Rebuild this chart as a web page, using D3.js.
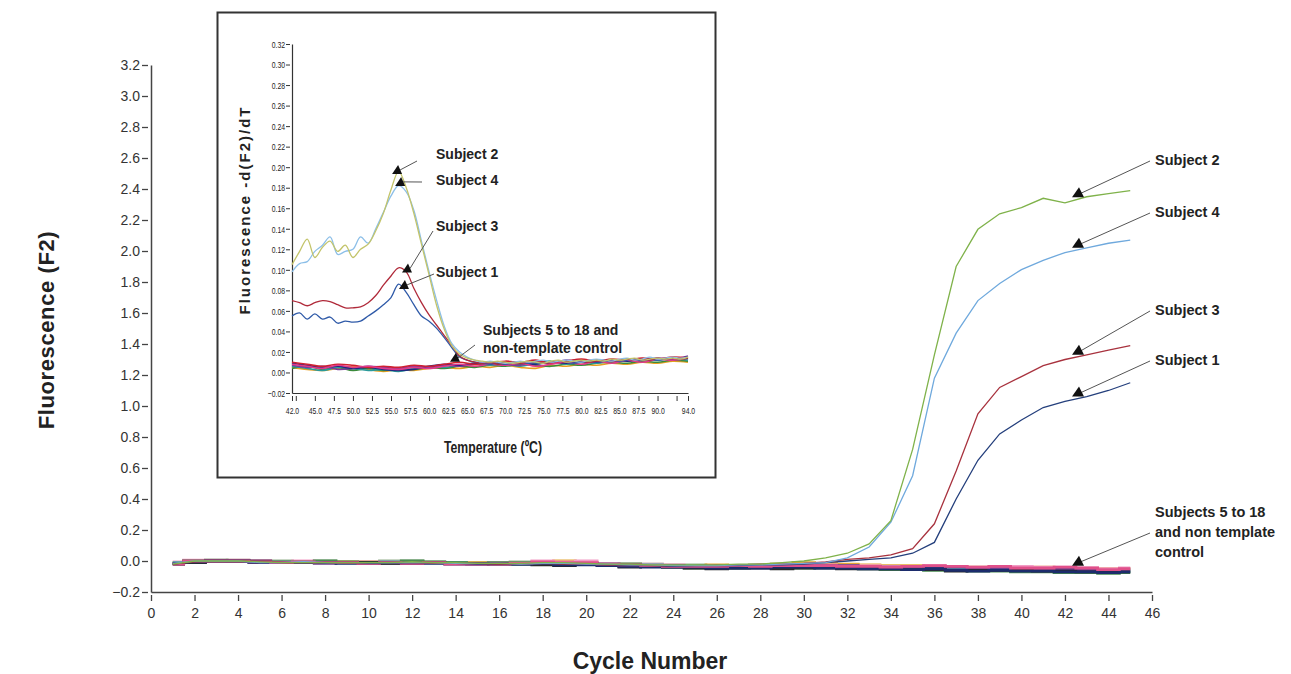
<!DOCTYPE html>
<html><head><meta charset="utf-8">
<script src="https://cdn.jsdelivr.net/npm/d3@7"></script>
<style>
body{margin:0;background:#fff;}
svg{display:block;}
</style></head>
<body><svg id="c" width="1291" height="674"></svg>
<script>
// ---------------- DATA: main amplification chart ----------------
const cycles = d3.range(1, 46);
const xTicks = [0,2,4,6,8,10,12,14,16,18,20,22,24,26,28,30,32,34,36,38,40,42,44,46];
const yTicks = [-0.2,0.0,0.2,0.4,0.6,0.8,1.0,1.2,1.4,1.6,1.8,2.0,2.2,2.4,2.6,2.8,3.0,3.2];

const subject2 = [-0.02,0,0,0,-0.005,-0.01,-0.01,-0.01,-0.01,-0.01,-0.01,-0.005,-0.01,-0.01,-0.015,-0.015,-0.015,-0.01,-0.01,-0.015,-0.02,-0.02,-0.025,-0.025,-0.025,-0.025,-0.02,-0.02,-0.01,
  0.0,0.02,0.05,0.11,0.26,0.72,1.33,1.90,2.14,2.24,2.28,2.34,2.31,2.35,2.37,2.39];
const subject4 = [-0.015,0,0,0,-0.01,-0.01,-0.005,-0.01,-0.01,-0.01,-0.01,-0.01,-0.01,-0.015,-0.015,-0.015,-0.02,-0.015,-0.015,-0.02,-0.02,-0.025,-0.025,-0.03,-0.03,-0.03,-0.025,-0.025,-0.02,
  -0.015,-0.01,0.02,0.09,0.25,0.55,1.18,1.47,1.68,1.79,1.88,1.94,1.99,2.02,2.05,2.07];
const subject3 = [-0.02,-0.005,0,0,-0.005,-0.01,-0.01,-0.01,-0.015,-0.01,-0.01,-0.01,-0.015,-0.015,-0.015,-0.02,-0.02,-0.015,-0.02,-0.02,-0.025,-0.025,-0.03,-0.03,-0.03,-0.025,-0.025,-0.02,-0.02,
  -0.015,-0.005,0.01,0.02,0.04,0.08,0.24,0.58,0.95,1.12,1.19,1.26,1.30,1.33,1.36,1.39];
const subject1 = [-0.02,-0.005,0,0,-0.01,-0.01,-0.01,-0.015,-0.01,-0.015,-0.015,-0.01,-0.015,-0.015,-0.02,-0.02,-0.02,-0.02,-0.02,-0.025,-0.025,-0.03,-0.03,-0.035,-0.03,-0.03,-0.03,-0.025,-0.025,
  -0.02,-0.01,0.0,0.01,0.02,0.05,0.12,0.40,0.65,0.82,0.91,0.99,1.03,1.06,1.10,1.15];

// subjects 5 to 18 and non-template control (flat traces)
const flat1 = [-0.02,0,0,0,-0.005,-0.01,-0.005,-0.01,-0.01,-0.015,-0.01,-0.015,-0.01,-0.02,-0.02,-0.02,-0.015,-0.005,-0.01,-0.01,-0.02,-0.025,-0.03,-0.035,-0.035,-0.035,-0.03,-0.035,-0.03,-0.03,-0.03,-0.035,-0.035,-0.04,-0.035,-0.03,-0.035,-0.04,-0.035,-0.045,-0.045,-0.04,-0.045,-0.055,-0.05];
const flat2 = [-0.02,-0.01,0,0,0,-0.01,-0.01,-0.015,-0.01,-0.015,-0.015,-0.01,-0.01,-0.015,-0.02,-0.015,-0.015,-0.01,-0.02,-0.015,-0.02,-0.03,-0.035,-0.03,-0.035,-0.04,-0.035,-0.035,-0.035,-0.03,-0.03,-0.03,-0.035,-0.04,-0.04,-0.045,-0.04,-0.045,-0.05,-0.05,-0.055,-0.05,-0.055,-0.06,-0.055];
const flat3 = [-0.01,0,0,0,-0.005,-0.005,-0.01,-0.005,-0.01,-0.01,-0.005,-0.005,-0.01,-0.01,-0.015,-0.015,-0.02,-0.02,-0.02,-0.015,-0.02,-0.02,-0.025,-0.03,-0.03,-0.035,-0.035,-0.04,-0.04,-0.035,-0.04,-0.04,-0.045,-0.045,-0.05,-0.05,-0.05,-0.055,-0.06,-0.055,-0.06,-0.06,-0.065,-0.06,-0.065];
const flat4 = [-0.015,-0.005,0,0,-0.01,-0.01,-0.01,-0.01,-0.015,-0.015,-0.01,-0.015,-0.015,-0.02,-0.02,-0.02,-0.02,-0.015,-0.025,-0.025,-0.03,-0.035,-0.04,-0.04,-0.04,-0.045,-0.045,-0.045,-0.04,-0.04,-0.045,-0.045,-0.05,-0.05,-0.055,-0.05,-0.06,-0.065,-0.06,-0.065,-0.065,-0.07,-0.07,-0.075,-0.07];
const flat5 = [-0.01,0,0,0,0,-0.005,-0.005,-0.01,-0.005,-0.005,-0.01,-0.005,-0.01,-0.01,-0.01,-0.015,-0.015,-0.01,0,-0.01,-0.015,-0.02,-0.025,-0.03,-0.03,-0.025,-0.03,-0.03,-0.02,-0.01,-0.015,-0.02,-0.025,-0.03,-0.03,-0.035,-0.035,-0.04,-0.04,-0.045,-0.04,-0.045,-0.05,-0.05,-0.05];
const flat6 = [-0.015,0,0.005,0,-0.005,-0.005,-0.005,0,-0.005,-0.01,-0.01,0,-0.005,-0.01,-0.015,-0.01,-0.01,-0.015,-0.015,-0.02,-0.025,-0.02,-0.03,-0.04,-0.045,-0.045,-0.045,-0.04,-0.045,-0.045,-0.04,-0.045,-0.05,-0.055,-0.055,-0.06,-0.06,-0.065,-0.065,-0.07,-0.07,-0.075,-0.075,-0.08,-0.075];
const flat7 = [-0.02,-0.01,0,0,-0.005,-0.01,-0.01,-0.01,-0.01,-0.01,-0.015,-0.015,-0.01,-0.015,-0.015,-0.02,-0.02,-0.025,-0.03,-0.02,-0.03,-0.04,-0.035,-0.04,-0.045,-0.05,-0.045,-0.045,-0.05,-0.045,-0.045,-0.05,-0.05,-0.05,-0.055,-0.055,-0.065,-0.06,-0.06,-0.06,-0.065,-0.065,-0.07,-0.07,-0.07];
const flat8 = [-0.005,0.005,0.005,0.005,0,-0.005,0,-0.005,-0.01,-0.005,-0.005,-0.01,-0.01,-0.015,-0.015,-0.01,-0.01,0,-0.005,0,-0.015,-0.02,-0.02,-0.025,-0.03,-0.03,-0.035,-0.03,-0.03,-0.025,-0.025,-0.03,-0.03,-0.035,-0.035,-0.03,-0.035,-0.04,-0.04,-0.035,-0.04,-0.04,-0.045,-0.05,-0.045];
const flat9 = [-0.01,0,0,0.005,0,0,-0.005,0,-0.005,-0.005,0,0,-0.005,-0.01,-0.01,-0.01,-0.005,-0.01,-0.015,-0.01,-0.015,-0.02,-0.02,-0.025,-0.025,-0.03,-0.03,-0.025,-0.02,-0.02,-0.025,-0.03,-0.035,-0.035,-0.04,-0.04,-0.04,-0.045,-0.045,-0.05,-0.05,-0.05,-0.055,-0.055,-0.05];

// ---------------- DATA: inset melting-curve chart ----------------
const temps = d3.range(42, 95);
const tempsFlat = d3.range(42, 95, 2);
const insetXTicks = [42,42.5,45,47.5,50,52.5,55,57.5,60,62.5,65,67.5,70,72.5,75,77.5,80,82.5,85,87.5,90,92.5,94];
const insetXLabelled = [42,45,47.5,50,52.5,55,57.5,60,62.5,65,67.5,70,72.5,75,77.5,80,82.5,85,87.5,90,94];
const insetYTicks = [-0.02,0.00,0.02,0.04,0.06,0.08,0.10,0.12,0.14,0.16,0.18,0.20,0.22,0.24,0.26,0.28,0.30,0.32];

const melt2 = [0.105,0.118,0.130,0.112,0.122, 0.128,0.118,0.124,0.112,0.120, 0.125,0.138,0.155,0.178,0.196,
  0.180,0.155,0.125,0.095,0.065, 0.042,0.026,0.018,0.014,0.012, 0.011,0.010,0.011,0.010,0.009,
  0.010,0.011,0.010,0.009,0.011, 0.012,0.010,0.011,0.012,0.011, 0.012,0.011,0.013,0.012,0.013,
  0.014,0.012,0.013,0.014,0.013, 0.014,0.013,0.015];
const melt4 = [0.098,0.106,0.108,0.118,0.124, 0.132,0.115,0.118,0.120,0.132, 0.126,0.140,0.156,0.172,0.182,
  0.176,0.158,0.128,0.098,0.070, 0.045,0.028,0.020,0.015,0.012, 0.010,0.011,0.010,0.009,0.010,
  0.011,0.010,0.011,0.012,0.010, 0.011,0.012,0.011,0.010,0.012, 0.013,0.012,0.011,0.013,0.014,
  0.012,0.013,0.015,0.013,0.014, 0.015,0.014,0.015];
const melt3 = [0.070,0.068,0.065,0.068,0.070, 0.069,0.066,0.063,0.063,0.064, 0.068,0.075,0.085,0.094,0.102,
  0.098,0.082,0.068,0.056,0.046, 0.036,0.026,0.016,0.012,0.010, 0.009,0.010,0.008,0.009,0.010,
  0.009,0.010,0.011,0.009,0.010, 0.011,0.010,0.012,0.011,0.010, 0.011,0.012,0.011,0.012,0.013,
  0.012,0.013,0.012,0.014,0.013, 0.014,0.013,0.014];
const melt1 = [0.055,0.058,0.052,0.057,0.052, 0.054,0.048,0.050,0.049,0.050, 0.055,0.060,0.066,0.073,0.086,
  0.078,0.066,0.055,0.050,0.043, 0.034,0.024,0.015,0.012,0.010, 0.009,0.008,0.009,0.008,0.009,
  0.010,0.009,0.010,0.009,0.010, 0.011,0.010,0.009,0.010,0.011, 0.010,0.011,0.012,0.011,0.012,
  0.013,0.012,0.013,0.012,0.013, 0.014,0.013,0.014];

const meltFlat1 = [0.008,0.006,0.004,0.007,0.005,0.006,0.004,0.003,0.005,0.004,0.006,0.008,0.006,0.008,0.007,0.009,0.006,0.008,0.010,0.008,0.011,0.009,0.012,0.010,0.013,0.012,0.014];
const meltFlat2 = [0.006,0.004,0.002,0.005,0.004,0.002,0.003,0.001,0.004,0.006,0.005,0.007,0.009,0.007,0.008,0.006,0.009,0.011,0.008,0.010,0.009,0.012,0.011,0.013,0.012,0.014,0.012];
const meltFlat3 = [0.009,0.007,0.005,0.006,0.004,0.005,0.003,0.002,0.003,0.006,0.008,0.007,0.009,0.008,0.010,0.009,0.008,0.010,0.009,0.011,0.010,0.012,0.011,0.012,0.013,0.013,0.015];
const meltFlat4 = [0.005,0.003,0.002,0.004,0.006,0.003,0.001,0.003,0.002,0.004,0.005,0.004,0.006,0.005,0.007,0.005,0.004,0.007,0.006,0.008,0.007,0.009,0.008,0.010,0.009,0.011,0.010];
const meltFlat5 = [0.007,0.005,0.006,0.003,0.004,0.006,0.005,0.004,0.006,0.005,0.007,0.006,0.008,0.010,0.008,0.007,0.010,0.009,0.012,0.010,0.012,0.011,0.013,0.012,0.014,0.013,0.016];
const meltFlat6 = [0.004,0.006,0.003,0.005,0.002,0.004,0.002,0.004,0.003,0.005,0.004,0.006,0.005,0.007,0.006,0.008,0.007,0.006,0.008,0.007,0.009,0.010,0.009,0.011,0.010,0.012,0.011];
const meltFlat7 = [0.010,0.008,0.006,0.008,0.007,0.005,0.006,0.005,0.007,0.006,0.008,0.010,0.008,0.009,0.011,0.010,0.012,0.009,0.011,0.013,0.011,0.013,0.012,0.014,0.013,0.015,0.014];

// ---------------- DRAWING ----------------
const svg = d3.select('#c');
svg.append('rect').attr('width',1291).attr('height',674).attr('fill','#fff');
const FONT = "'Liberation Sans', Arial, sans-serif";
const SQ = 0.72; // horizontal squeeze that imitates the narrow face of the inset

const x = d3.scaleLinear().domain([0,46]).range([151,1152]);
const y = d3.scaleLinear().domain([-0.2,3.2]).range([592,65]);

function valAt(xs, ys, t){
  const i = Math.max(0, Math.min(xs.length-2, d3.bisectRight(xs, t)-1));
  const f = (t - xs[i])/(xs[i+1]-xs[i]);
  return ys[i] + (ys[i+1]-ys[i])*f;
}

// main axes
const gx = svg.append('g').attr('transform',`translate(0,${y(-0.2)})`)
  .call(d3.axisBottom(x).tickValues(xTicks).tickSizeOuter(0).tickSize(0).tickFormat(d3.format('d')));
gx.select('.domain').attr('stroke','#444').attr('stroke-width',1.5);
gx.selectAll('.tick line').attr('y1',3).attr('y2',9).attr('stroke','#444').attr('stroke-width',1.3);
gx.selectAll('.tick text').attr('y',16).attr('dy','0.71em').attr('font-family',FONT).attr('font-size',14).attr('fill','#333');

const gy = svg.append('g').attr('transform',`translate(${x(0)},0)`)
  .call(d3.axisLeft(y).tickValues(yTicks).tickSizeOuter(0).tickSize(0).tickFormat(d3.format('.1f')));
gy.select('.domain').attr('stroke','#444').attr('stroke-width',1.5);
gy.selectAll('.tick line').attr('x1',-3).attr('x2',-9).attr('stroke','#444').attr('stroke-width',1.3);
gy.selectAll('.tick text').attr('x',-11).attr('dy','0.34em').attr('font-family',FONT).attr('font-size',14).attr('fill','#333');

svg.append('text').attr('transform','translate(54,330) rotate(-90)').attr('text-anchor','middle')
  .attr('font-family',FONT).attr('font-weight','bold').attr('font-size',22).attr('letter-spacing',0.6).attr('fill','#222')
  .text('Fluorescence (F2)');
svg.append('text').attr('x',650).attr('y',669).attr('text-anchor','middle')
  .attr('font-family',FONT).attr('font-weight','bold').attr('font-size',23).attr('fill','#222')
  .text('Cycle Number');

// flat traces
const flatSeries = [
  {v:flat9,c:'#93b08c'},{v:flat5,c:'#e3a634'},{v:flat8,c:'#f29cc4'},{v:flat3,c:'#3aa6a0'},
  {v:flat6,c:'#4a8c52'},{v:flat2,c:'#6b3c8c'},{v:flat7,c:'#2a2a2a'},{v:flat4,c:'#1c2c6c'},{v:flat1,c:'#e0508a'}
];
const stepLine = d3.line().x((d,i)=>x(cycles[i])).y(d=>y(d)).curve(d3.curveStep);
svg.append('g').selectAll('path').data(flatSeries).join('path')
  .attr('d',d=>stepLine(d.v)).attr('fill','none').attr('stroke',d=>d.c).attr('stroke-width',2.8);

const mainSeries = [
  {v:subject1,c:'#243f7c'},{v:subject3,c:'#a8323e'},{v:subject4,c:'#6fa9dd'},{v:subject2,c:'#7fb24a'}
];
const line = d3.line().x((d,i)=>x(cycles[i])).y(d=>y(d));
svg.append('g').selectAll('path').data(mainSeries).join('path')
  .attr('d',d=>line(d.v)).attr('fill','none').attr('stroke',d=>d.c).attr('stroke-width',1.3);

// annotations main
function tri(g, px, py, w, h){
  g.append('path').attr('d',`M${px-w/2},${py} L${px+w/2},${py} L${px+1},${py-h} Z`).attr('fill','#111');
}
const mainNotes = [
  {lines:['Subject 2'], v:subject2, at:42.6, lx:1155, ly:160},
  {lines:['Subject 4'], v:subject4, at:42.6, lx:1155, ly:212},
  {lines:['Subject 3'], v:subject3, at:42.6, lx:1155, ly:310},
  {lines:['Subject 1'], v:subject1, at:42.6, lx:1155, ly:360},
  {lines:['Subjects 5 to 18','and non template','control'], v:flat8, at:42.6, lx:1155, ly:512, ey:532}
];
const ga = svg.append('g');
mainNotes.forEach(n=>{
  const px = x(n.at), py = y(valAt(cycles, n.v, n.at)) - 2;
  ga.append('line').attr('x1',px+3).attr('y1',py-4).attr('x2',n.lx-5).attr('y2',(n.ey||n.ly)+1)
    .attr('stroke','#555').attr('stroke-width',1);
  tri(ga, px, py, 12, 10);
  n.lines.forEach((t,i)=>{
    ga.append('text').attr('x',n.lx).attr('y',n.ly+i*20).attr('dy','0.35em')
      .attr('font-family',FONT).attr('font-weight','bold').attr('font-size',14.5).attr('fill','#222').text(t);
  });
});

// ---------------- INSET ----------------
const gi = svg.append('g');
gi.append('rect').attr('x',217.5).attr('y',12.5).attr('width',498).attr('height',465)
  .attr('fill','#fff').attr('stroke','#333').attr('stroke-width',2);
const xi = d3.scaleLinear().domain([42,94]).range([292,688]);
const yi = d3.scaleLinear().domain([-0.02,0.32]).range([393,44]);

const gix = gi.append('g').attr('transform',`translate(0,${yi(-0.02)})`)
  .call(d3.axisBottom(xi).tickValues(insetXTicks).tickSizeOuter(0).tickSize(0)
    .tickFormat(d=>insetXLabelled.includes(d)?d3.format('.1f')(d):''));
gix.select('.domain').attr('stroke','#333').attr('stroke-width',1.2);
gix.selectAll('.tick line').attr('y1',3).attr('y2',8).attr('stroke','#333').attr('stroke-width',1);
gix.selectAll('.tick text').attr('y',14).attr('dy','0.71em').attr('transform',`scale(${SQ},1)`)
  .attr('font-family',FONT).attr('font-size',9.5).attr('fill','#222');

const giy = gi.append('g').attr('transform',`translate(${xi(42)},0)`)
  .call(d3.axisLeft(yi).tickValues(insetYTicks).tickSizeOuter(0).tickSize(0).tickFormat(d3.format('.2f')));
giy.select('.domain').attr('stroke','#333').attr('stroke-width',1.2);
giy.selectAll('.tick line').attr('x1',-2).attr('x2',-6).attr('stroke','#333').attr('stroke-width',1);
giy.selectAll('.tick text').attr('x',-7/SQ).attr('dy','0.34em').attr('transform',`scale(${SQ},1)`)
  .attr('font-family',FONT).attr('font-size',9.5).attr('fill','#222');

gi.append('text').attr('transform','translate(250,210) rotate(-90)').attr('text-anchor','middle')
  .attr('font-family',FONT).attr('font-weight','bold').attr('font-size',15).attr('letter-spacing',2).attr('fill','#222')
  .text('Fluorescence -d(F2)/dT');
gi.append('text').attr('transform',`translate(493,453) scale(${SQ},1)`).attr('text-anchor','middle')
  .attr('font-family',FONT).attr('font-weight','bold').attr('font-size',17).attr('fill','#222')
  .text('Temperature (ºC)');

const meltFlat = [
  {v:meltFlat4,c:'#e8a020'},{v:meltFlat6,c:'#3a8a3a'},{v:meltFlat2,c:'#2a9a9a'},{v:meltFlat5,c:'#7a3a9a'},
  {v:meltFlat3,c:'#1f2a80'},{v:meltFlat7,c:'#d02030'},{v:meltFlat1,c:'#e03a8a'}
];
const flatLine = d3.line().x((d,i)=>xi(tempsFlat[i])).y(d=>yi(d)).curve(d3.curveCatmullRom);
gi.append('g').selectAll('path').data(meltFlat).join('path')
  .attr('d',d=>flatLine(d.v)).attr('fill','none').attr('stroke',d=>d.c).attr('stroke-width',1.6);

const meltSeries = [
  {v:melt1,c:'#2f5aa8'},{v:melt3,c:'#b02a3a'},{v:melt4,c:'#8cbfe8'},{v:melt2,c:'#c3c46a'}
];
const meltLine = d3.line().x((d,i)=>xi(temps[i])).y(d=>yi(d)).curve(d3.curveCatmullRom);
gi.append('g').selectAll('path').data(meltSeries).join('path')
  .attr('d',d=>meltLine(d.v)).attr('fill','none').attr('stroke',d=>d.c).attr('stroke-width',1.3);

const insetNotes = [
  {lines:['Subject 2'], xs:temps, v:melt2, at:55.8, ex:417, ey:161, lx:436, ly:154},
  {lines:['Subject 4'], xs:temps, v:melt4, at:56.2, ex:422, ey:182, lx:436, ly:180},
  {lines:['Subject 3'], xs:temps, v:melt3, at:57.1, ex:433, ey:231, lx:436, ly:226},
  {lines:['Subject 1'], xs:temps, v:melt1, at:56.7, ex:434, ey:274, lx:436, ly:272},
  {lines:['Subjects 5 to 18 and','non-template control'], xs:tempsFlat, v:meltFlat7, at:63.4, ex:475, ey:345, lx:483, ly:330}
];
insetNotes.forEach(n=>{
  const px = xi(n.at), py = yi(valAt(n.xs, n.v, n.at)) - 1;
  gi.append('line').attr('x1',px+3).attr('y1',py-4).attr('x2',n.ex).attr('y2',n.ey)
    .attr('stroke','#555').attr('stroke-width',1);
  tri(gi, px, py, 10, 9);
  n.lines.forEach((t,i)=>{
    gi.append('text').attr('x',n.lx).attr('y',n.ly+i*18).attr('dy','0.35em')
      .attr('font-family',FONT).attr('font-weight','bold').attr('font-size',14).attr('fill','#222').text(t);
  });
});
</script>
</body></html>
